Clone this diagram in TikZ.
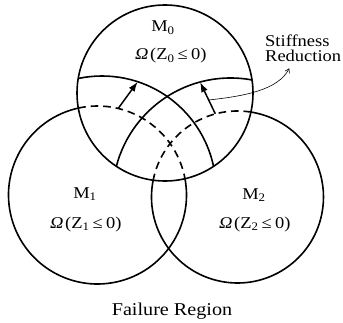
\documentclass[tikz,border=0pt]{standalone}
\usepackage{fontspec}
\setmainfont{Liberation Serif}[FakeStretch=1.12]
\usetikzlibrary{arrows.meta}
\newcommand{\OmG}{\makebox[1em]{\textit{Ω}}}
\newcommand{\LEq}{\makebox[1em]{≤}}
\begin{document}
\begin{tikzpicture}[x=1pt,y=1pt,
  ring/.style={line width=1.6pt},
  hidden/.style={line width=1.6pt, dash pattern=on 7.5pt off 5pt},
  shift arrow/.style={line width=1.5pt, -{Latex[length=10pt,width=7pt]}},
  note arrow/.style={line width=0.6pt, -{Straight Barb[length=4pt,width=5pt]}},
  lbl/.style={font=\fontsize{16.5}{18}\selectfont, inner sep=0pt, anchor=base},
  note/.style={font=\fontsize{16.5}{18}\selectfont, inner sep=0pt, anchor=base west},
]
\useasboundingbox (0,0) rectangle (343,322);
\coordinate (T) at (165,229);
\coordinate (L) at (97.5,127);
\coordinate (R) at (237.5,125);
\coordinate (Lx) at (102,132);
\coordinate (Rx) at (230.6,126);

% circles
\draw[ring] (T) circle[radius=88];
\draw[ring] (L) ++(102.4:89) arc[start angle=102.4, end angle=370.55, radius=89];
\draw[ring] (R) ++(168.8:86) arc[start angle=168.8, end angle=441, radius=86];
\draw[hidden] (L) ++(102.4:89) arc[start angle=102.4, end angle=10.55, radius=89];
\draw[hidden] (R) ++(81:86) arc[start angle=81, end angle=168.8, radius=86];
\begin{scope}
  \clip (T) circle[radius=88];
  \draw[ring] (Lx) circle[radius=114];
  \draw[ring] (Rx) circle[radius=118];
\end{scope}

% stiffness reduction arrows
\coordinate (a1t) at (118.3,213.7);
\coordinate (a1h) at (137.7,240.3);
\coordinate (a2t) at (215.3,208.2);
\coordinate (a2h) at (200.1,239.9);
\draw[shift arrow] (a1t) -- (a1h);
\draw[shift arrow] (a2t) -- coordinate[pos=0.435] (srs) (a2h);

% labels
\node[lbl] (m0) at (163,290) {M\textsubscript{0}};
\node[lbl] (o0) at (170,262) {\OmG(Z\textsubscript{0}\LEq0)};
\node[lbl] (m1) at (85,124) {M\textsubscript{1}};
\node[lbl] (o1) at (85,94) {\OmG(Z\textsubscript{1}\LEq0)};
\node[lbl] (m2) at (254,123) {M\textsubscript{2}};
\node[lbl] (o2) at (254,94) {\OmG(Z\textsubscript{2}\LEq0)};
\node[lbl, font=\fontsize{18}{20}\selectfont] (fr) at (172,7) {Failure Region};
\node[note] (st) at (265,275.3) {Stiffness};
\node[note] (rd) at (265,260.3) {Reduction};
\coordinate (srt) at (289.3,253.7);
\draw[note arrow] (srs) .. controls (245,226) and (278,232) .. (srt);
\end{tikzpicture}
\end{document}
